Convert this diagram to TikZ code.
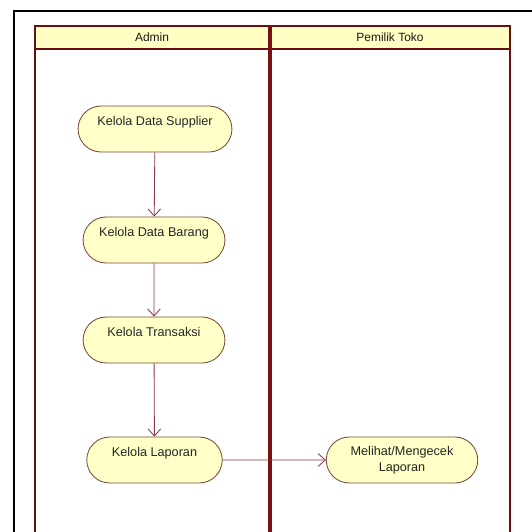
\documentclass[tikz,border=0pt]{standalone}
\usepackage{fontspec}
\setmainfont{Liberation Sans}
\usetikzlibrary{arrows.meta,shapes.misc}

\definecolor{laneyellow}{HTML}{FFFFC4}
\definecolor{actyellow}{HTML}{FFFFC8}
\definecolor{lanered}{HTML}{7A0F14}
\definecolor{actborder}{HTML}{7A4A3A}
\definecolor{flowred}{HTML}{8A3A44}

\tikzset{
    activity/.style = {rounded rectangle, draw = actborder, fill = actyellow, line width = 0.6pt,
                       minimum height = 1.15cm, font = \fontsize{9}{11}\selectfont, text = black!85},
    flow/.style = {draw = flowred, line width = 0.6pt, -{Straight Barb[length = 5pt, width = 9pt]}}
}

\begin{document}
\begin{tikzpicture}[x = 0.025cm, y = -0.025cm]
        \clip (0, 0) rectangle (532, 532);
        \fill[white] (0, 0) rectangle (532, 532);

        % Rahmen
            \draw[black, line width = 1.5pt] (14, 545) -- (14, 11) -- (545, 11);

        % Swimlanes
            \draw[laneyellow!40!white, fill = white] (35, 26) rectangle (510, 545);
            \draw[lanered!85!black, fill = laneyellow, line width = 1pt] (35, 26) rectangle (510, 49);
            \draw[lanered!85!black, line width = 1pt] (35, 49) -- (35, 545);
            \draw[lanered!85!black, line width = 1pt] (510, 49) -- (510, 545);
            \draw[lanered, line width = 2.2pt] (270, 26) -- (270, 545);
            \node[font = \fontsize{8.5}{10}\selectfont, text = black!90] (admin) at (152, 37.5) {Admin};
            \node[font = \fontsize{8.5}{10}\selectfont, text = black!90] (pemilik) at (390, 37.5) {Pemilik Toko};

        % Aktivitaeten
            \node[activity, minimum width = 4.08cm, text depth = 11pt] (supplier) at (155, 129) {Kelola Data Supplier};
            \node[activity, minimum width = 3.78cm, text depth = 11pt] (barang) at (154, 240) {Kelola Data Barang};
            \node[activity, minimum width = 3.78cm, text depth = 11pt] (transaksi) at (154, 340) {Kelola Transaksi};
            \node[activity, minimum width = 3.62cm, text depth = 11pt] (laporan) at (154.5, 460) {Kelola Laporan};
            \node[activity, minimum width = 4.02cm, align = center] (cek) at (402, 460) {Melihat/Mengecek\\Laporan};

        % Pfeile
            \draw[flow] (supplier) -- (barang);
            \draw[flow] (barang) -- (transaksi);
            \draw[flow] (transaksi) -- (laporan);
            \draw[flow] (laporan) -- (cek);
    \end{tikzpicture}
\end{document}
